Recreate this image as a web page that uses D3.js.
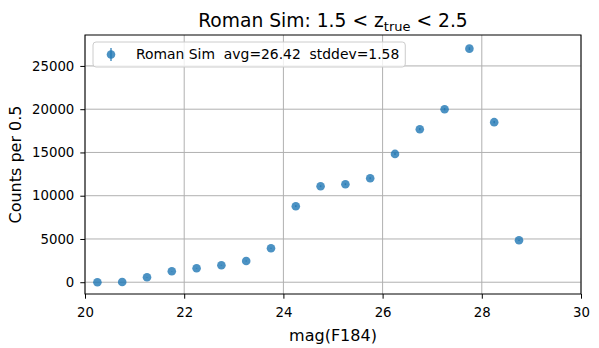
<!doctype html>
<html>
  <head>
    <script src="https://cdn.jsdelivr.net/npm/d3@7"></script>
    <style>
      body { margin: 0; background: #fff; }
      text { font-family: "DejaVu Sans", sans-serif; }
    </style>
  </head>
  <body>
    <svg id="chart" width="599" height="348"></svg>

    <script>
      // bin centres of mag(F184), counts per 0.5 mag and their error bars
      var mags   = [20.25, 20.75, 21.25, 21.75, 22.25, 22.75, 23.25, 23.75, 24.25,
                    24.75, 25.25, 25.75, 26.25, 26.75, 27.25, 27.75, 28.25, 28.75];
      var counts = [0, 30, 580, 1270, 1620, 1970, 2460, 3930, 8790,
                    11100, 11330, 12020, 14830, 17690, 20000, 27000, 18500, 4850];
      var errs   = [0, 5, 24, 36, 40, 44, 50, 63, 94,
                    105, 106, 110, 122, 133, 141, 164, 136, 70];
      var xTicks = [20, 22, 24, 26, 28, 30];
      var yTicks = [0, 5000, 10000, 15000, 20000, 25000];
      var legendLabel = "Roman Sim  avg=26.42  stddev=1.58";

      // plot area (don't call these top/left: window.top is read-only)
      var pL = 85, pR = 581, pT = 35, pB = 294;
      var blue = "#1f77b4";

      var svg = d3.select("#chart");

      var x = d3.scaleLinear().domain([20, 30]).range([pL, pR]);
      var y = d3.scaleLinear().domain([-1360, 28575]).range([pB, pT]);

      // grid
      svg.append("g").selectAll("line")
        .data(xTicks)
        .enter().append("line")
          .attr("x1", d => x(d)).attr("x2", d => x(d))
          .attr("y1", pT).attr("y2", pB)
          .attr("stroke", "#b0b0b0").attr("stroke-width", 1);
      svg.append("g").selectAll("line")
        .data(yTicks)
        .enter().append("line")
          .attr("x1", pL).attr("x2", pR)
          .attr("y1", d => y(d)).attr("y2", d => y(d))
          .attr("stroke", "#b0b0b0").attr("stroke-width", 1);

      // error bars + points
      var pts = svg.append("g");
      pts.selectAll("line")
        .data(mags)
        .enter().append("line")
          .attr("x1", d => x(d)).attr("x2", d => x(d))
          .attr("y1", (d, i) => y(counts[i] - errs[i]))
          .attr("y2", (d, i) => y(counts[i] + errs[i]))
          .attr("stroke", blue).attr("stroke-opacity", 0.8).attr("stroke-width", 1.5);
      pts.selectAll("circle")
        .data(mags)
        .enter().append("circle")
          .attr("cx", d => x(d))
          .attr("cy", (d, i) => y(counts[i]))
          .attr("r", 4.3)
          .attr("fill", blue).attr("fill-opacity", 0.8);

      // axes
      var xAxis = svg.append("g")
        .attr("transform", "translate(0," + pB + ")")
        .call(d3.axisBottom(x).tickValues(xTicks).tickSize(4.7).tickSizeOuter(0).tickPadding(4.7));
      xAxis.selectAll("text").attr("dy", null).attr("y", 23);

      var yAxis = svg.append("g")
        .attr("transform", "translate(" + pL + ",0)")
        .call(d3.axisLeft(y).tickValues(yTicks).tickFormat(d3.format("d")).tickSize(4.7).tickSizeOuter(0).tickPadding(6));

      [xAxis, yAxis].forEach(function(a) {
        a.select(".domain").remove();
        a.selectAll("line").attr("stroke", "#000").attr("stroke-width", 1);
        a.selectAll("text").attr("fill", "#000")
          .style("font-size", "13.3px").style("font-family", "DejaVu Sans");
      });

      // frame
      svg.append("rect")
        .attr("x", pL).attr("y", pT)
        .attr("width", pR - pL).attr("height", pB - pT)
        .attr("fill", "none").attr("stroke", "#000").attr("stroke-width", 1);

      // legend
      var lg = svg.append("g");
      var box = lg.append("rect")
        .attr("x", 93).attr("y", 42).attr("height", 25)
        .attr("rx", 3).attr("ry", 3)
        .attr("fill", "#fff").attr("fill-opacity", 0.8)
        .attr("stroke", "#cccccc").attr("stroke-width", 1);
      lg.append("line")
        .attr("x1", 111).attr("x2", 111).attr("y1", 48).attr("y2", 61)
        .attr("stroke", blue).attr("stroke-opacity", 0.8).attr("stroke-width", 1.5);
      lg.append("circle")
        .attr("cx", 111).attr("cy", 54.5).attr("r", 4.3)
        .attr("fill", blue).attr("fill-opacity", 0.8);
      var lt = lg.append("text")
        .attr("x", 136).attr("y", 59)
        .style("font-size", "13.9px")
        .style("white-space", "pre")
        .text(legendLabel);
      box.attr("width", 136 + lt.node().getComputedTextLength() + 6 - 93);

      // title with subscript
      var title = svg.append("text")
        .attr("x", (pL + pR) / 2).attr("y", 27)
        .attr("text-anchor", "middle")
        .style("font-size", "18.7px");
      title.append("tspan").text("Roman Sim: 1.5 < z");
      title.append("tspan").attr("dy", 4).style("font-size", "13px").text("true");
      title.append("tspan").attr("dy", -4).text(" < 2.5");

      svg.append("text")
        .attr("x", (pL + pR) / 2).attr("y", 341)
        .attr("text-anchor", "middle")
        .style("font-size", "16px")
        .text("mag(F184)");

      svg.append("text")
        .attr("transform", "translate(21," + (pT + pB) / 2 + ") rotate(-90)")
        .attr("text-anchor", "middle")
        .style("font-size", "16px")
        .text("Counts per 0.5");
    </script>
  </body>
</html>
